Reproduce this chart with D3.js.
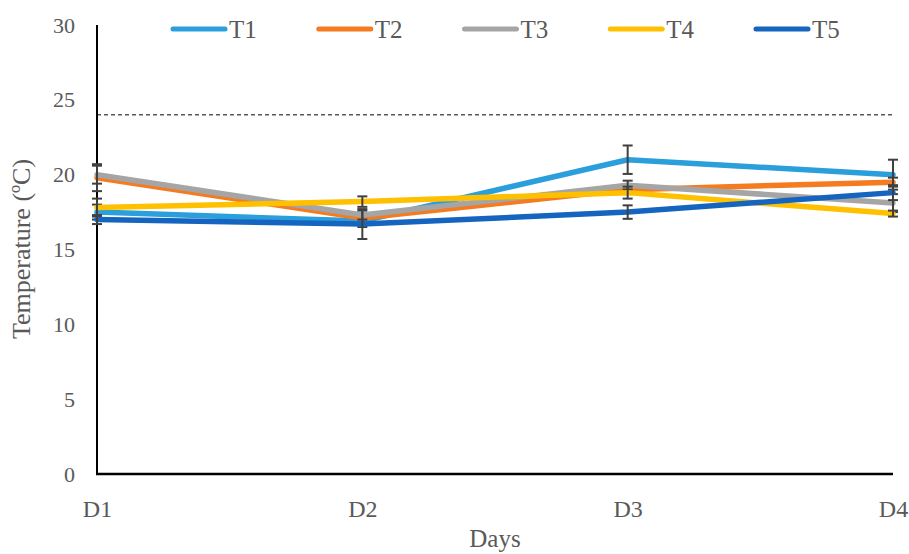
<!DOCTYPE html>
<html>
<head>
<meta charset="utf-8">
<script src="https://cdn.jsdelivr.net/npm/d3@7"></script>
<style>
  html, body { margin: 0; padding: 0; background: #fff; }
  svg { display: block; }
  text { font-family: "Liberation Serif", "DejaVu Serif", serif; fill: #595959; }
</style>
</head>
<body>
<svg id="chart" width="909" height="554"></svg>
<script>
// Daily mean temperature per treatment, with error bar half-widths
const days = ["D1", "D2", "D3", "D4"];
const seriesNames = ["T1", "T2", "T3", "T4", "T5"];
const seriesColors = ["#2A9FDB", "#F47B20", "#A5A5A5", "#FFC000", "#1565C0"];

const t1 = [17.5, 16.9, 21.0, 20.0];
const t2 = [19.8, 17.1, 19.0, 19.5];
const t3 = [20.0, 17.3, 19.3, 18.1];
const t4 = [17.8, 18.2, 18.8, 17.4];
const t5 = [17.0, 16.7, 17.5, 18.8];

const t1Err = [0.5, 0.4, 0.95, 1.0];
const t2Err = [0.9, 0.3, 0.3, 0.3];
const t3Err = [0.6, 0.3, 0.3, 0.6];
const t4Err = [0.6, 0.35, 0.4, 0.2];
const t5Err = [0.3, 1.0, 0.45, 0.5];

const yTicks = [0, 5, 10, 15, 20, 25, 30];
const thresholdValue = 24;

const series = [
  { name: seriesNames[0], color: seriesColors[0], values: t1, err: t1Err },
  { name: seriesNames[1], color: seriesColors[1], values: t2, err: t2Err },
  { name: seriesNames[2], color: seriesColors[2], values: t3, err: t3Err },
  { name: seriesNames[3], color: seriesColors[3], values: t4, err: t4Err },
  { name: seriesNames[4], color: seriesColors[4], values: t5, err: t5Err }
];

const svg = d3.select("#chart");
const plotLeft = 97, plotRight = 893, plotTop = 25, plotBottom = 474;

const x = d3.scalePoint().domain(days).range([plotLeft, plotRight]).padding(0);
const y = d3.scaleLinear().domain([0, 30]).range([plotBottom, plotTop]);

// Reference line at 24 °C
svg.append("line")
  .attr("x1", plotLeft).attr("x2", plotRight)
  .attr("y1", y(thresholdValue)).attr("y2", y(thresholdValue))
  .attr("stroke", "#595959").attr("stroke-width", 1.5)
  .attr("stroke-dasharray", "4,3");

// Y axis: labels only, with a plain black spine
const yAxis = d3.axisLeft(y).tickValues(yTicks).tickSize(0).tickPadding(22);
const gy = svg.append("g").attr("transform", `translate(${plotLeft},0)`).call(yAxis);
gy.select(".domain").remove();
gy.selectAll("text").style("font-size", "22px").style("font-family", "Liberation Serif").attr("fill", "#595959");

// X axis labels
const xAxis = d3.axisBottom(x).tickSize(0).tickPadding(26);
const gx = svg.append("g").attr("transform", `translate(0,${plotBottom})`).call(xAxis);
gx.select(".domain").remove();
gx.selectAll("text").style("font-size", "24px").style("font-family", "Liberation Serif").attr("fill", "#595959");

// Axis spines
svg.append("line").attr("x1", plotLeft).attr("x2", plotLeft).attr("y1", plotTop).attr("y2", plotBottom)
  .attr("stroke", "#000").attr("stroke-width", 2);
svg.append("line").attr("x1", plotLeft - 1).attr("x2", plotRight).attr("y1", plotBottom).attr("y2", plotBottom)
  .attr("stroke", "#000").attr("stroke-width", 2.5);

// Series lines with their error bars
const line = d3.line().x((d, i) => x(days[i])).y(d => y(d));
const capHalf = 5;

series.forEach(s => {
  svg.append("path")
    .datum(s.values)
    .attr("d", line)
    .attr("fill", "none")
    .attr("stroke", s.color)
    .attr("stroke-width", 5.5)
    .attr("stroke-linejoin", "round")
    .attr("stroke-linecap", "round");

  const eb = svg.append("g").attr("stroke", "#404040").attr("stroke-width", 2);
  s.values.forEach((v, i) => {
    const cx = x(days[i]);
    const hi = y(v + s.err[i]), lo = y(v - s.err[i]);
    eb.append("line").attr("x1", cx).attr("x2", cx).attr("y1", hi).attr("y2", lo);
    eb.append("line").attr("x1", cx - capHalf).attr("x2", cx + capHalf).attr("y1", hi).attr("y2", hi);
    eb.append("line").attr("x1", cx - capHalf).attr("x2", cx + capHalf).attr("y1", lo).attr("y2", lo);
  });
});

// Legend
const legendX = d3.scalePoint().domain(seriesNames).range([173, 756]);
const legend = svg.append("g");
series.forEach(s => {
  const lx = legendX(s.name);
  legend.append("line")
    .attr("x1", lx).attr("x2", lx + 52).attr("y1", 29).attr("y2", 29)
    .attr("stroke", s.color).attr("stroke-width", 5).attr("stroke-linecap", "round");
  legend.append("text")
    .attr("x", lx + 56).attr("y", 29).attr("dy", "0.35em")
    .style("font-size", "25px")
    .text(s.name);
});

// Axis titles
svg.append("text")
  .attr("x", (plotLeft + plotRight) / 2).attr("y", 547)
  .attr("text-anchor", "middle")
  .style("font-size", "25px")
  .text("Days");

svg.append("text")
  .attr("transform", "translate(30,249) rotate(-90)")
  .attr("text-anchor", "middle")
  .style("font-size", "26px")
  .text("Temperature (ºC)");
</script>
</body>
</html>
